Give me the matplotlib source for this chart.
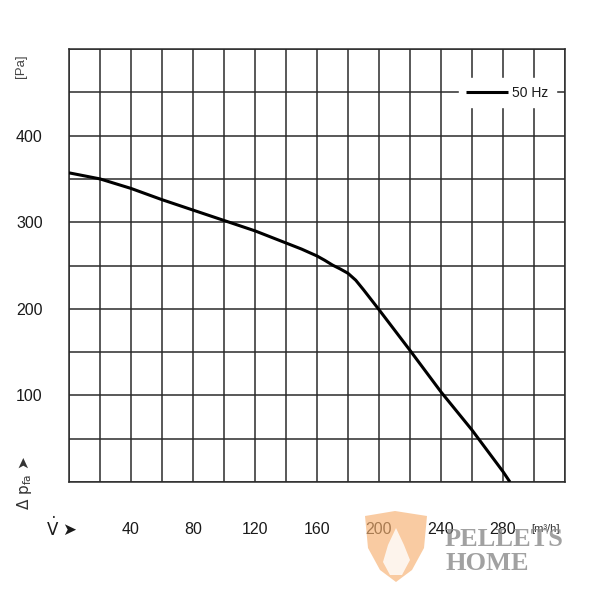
import matplotlib
matplotlib.use("Agg")
import matplotlib.pyplot as plt
from matplotlib.patches import Polygon

plt.rcParams['font.family'] = ['Liberation Sans', 'DejaVu Sans']
plt.rcParams['mathtext.fontset'] = 'dejavusans'

# Data
flow = [0, 20, 40, 60, 80, 100, 120, 130, 140, 150, 160, 165, 170, 175, 180, 185, 190,
        200, 220, 240, 260, 280, 284.5]
pressure = [357, 350, 339, 326, 314, 302, 290, 283, 276, 269, 261, 256, 250.5, 246, 241,
            233, 222, 199, 152, 104, 60, 12, 0]
series_label = "50 Hz"
x_tick_values = [40, 80, 120, 160, 200, 240, 280]
y_tick_values = [100, 200, 300, 400]

fig = plt.figure(figsize=(6, 6), dpi=100)
ax = fig.add_axes([69/600, 1-482/600, 496/600, 433/600])
ax.set_xlim(0, 320)
ax.set_ylim(0, 500)

grid_c = '#2b2b2b'
ax.set_xticks(list(range(0, 321, 20)), minor=True)
ax.set_yticks(list(range(0, 501, 50)), minor=True)
ax.set_xticks(x_tick_values)
ax.set_xticklabels([str(v) for v in x_tick_values])
ax.set_yticks(y_tick_values)
ax.set_yticklabels([str(v) for v in y_tick_values])
ax.grid(True, which='both', color=grid_c, lw=1.1)
ax.set_axisbelow(True)
ax.tick_params(which='both', length=0)
ax.tick_params(axis='x', pad=29, labelsize=11.5, labelcolor='#1a1a1a')
ax.tick_params(axis='y', pad=19, labelsize=11.5, labelcolor='#1a1a1a')
for s in ax.spines.values():
    s.set_color(grid_c)
    s.set_linewidth(1.1)

ax.plot(flow, pressure, color='black', lw=2.2, label=series_label, zorder=3,
        solid_capstyle='butt', solid_joinstyle='round')

leg = ax.legend(loc='upper right', bbox_to_anchor=(0.982, 0.933), borderaxespad=0,
                fontsize=10, handlelength=3.0, handletextpad=0.3, borderpad=0.55,
                frameon=True, fancybox=False, framealpha=1, edgecolor='white',
                facecolor='white')
leg.get_texts()[0].set_color('#1a1a1a')

# Axis annotations
fig.text(21/600, 1-66/600, "[Pa]", rotation=90, ha='center', va='center',
         fontsize=9.5, color='#444444')
fig.text(24/600, 1-483/600, "Δ p$_{\\mathrm{fa}}$ ➤", rotation=90, ha='center', va='center',
         fontsize=11, color='#333333', family=['DejaVu Sans'])
fig.text(62/600, 1-528/600, "$\\dot{\\mathrm{V}}$ ➤", ha='center', va='center',
         fontsize=12, color='#1a1a1a', family=['DejaVu Sans'])
fig.text(531/600, 1-529/600, "[m³/h]", ha='left', va='center',
         fontsize=8, color='#333333')

# Watermark
shield = Polygon([[365/600, 1-516/600], [395/600, 1-511/600], [427/600, 1-516/600],
                  [424/600, 1-548/600], [412/600, 1-570/600], [396/600, 1-582/600],
                  [380/600, 1-570/600], [368/600, 1-548/600]],
                 closed=True, transform=fig.transFigure, facecolor='#f6b070',
                 edgecolor='none', alpha=0.65, zorder=5)
fig.patches.append(shield)
flame = Polygon([[396/600, 1-528/600], [404/600, 1-545/600], [410/600, 1-560/600],
                 [402/600, 1-575/600], [390/600, 1-575/600], [383/600, 1-562/600],
                 [388/600, 1-545/600]],
                closed=True, transform=fig.transFigure, facecolor='white',
                edgecolor='none', alpha=0.8, zorder=6)
fig.patches.append(flame)
fig.text(445/600, 1-540/600, "PELLETS", ha='left', va='center', fontsize=19,
         family=['Liberation Serif'], weight='bold', color='#8a8a8a', alpha=0.8)
fig.text(445/600, 1-564/600, "HOME", ha='left', va='center', fontsize=19,
         family=['Liberation Serif'], weight='bold', color='#8a8a8a', alpha=0.8)

fig.savefig("out.png", dpi=100, facecolor='white')
